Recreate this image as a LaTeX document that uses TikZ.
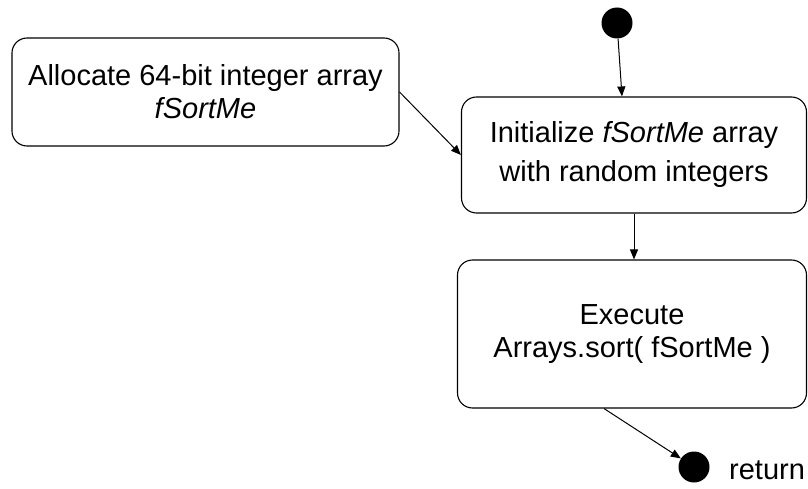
\documentclass[tikz,border=0pt]{standalone}
\usepackage{fontspec}
\setmainfont{Liberation Sans}
\usepackage{tikz}
\usetikzlibrary{arrows.meta}

\begin{document}
\begin{tikzpicture}[x=1pt,y=-1pt,
	state/.style={draw, line width=1.1pt, rounded corners=15pt, align=center,
		inner sep=0pt, font=\fontsize{29}{33}\selectfont},
	dot/.style={circle, fill=black, inner sep=0pt, minimum size=31pt},
	arr/.style={line width=1pt, -{Triangle[length=10pt,width=8pt]}}]

\useasboundingbox (0,0) rectangle (808,489);

\node[state, minimum width=387pt, minimum height=108pt] (alloc) at (205.5,92)
	{Allocate 64-bit integer array\\\textit{fSortMe}};
\node[state, minimum width=345pt, minimum height=116pt, font=\fontsize{29}{39}\selectfont] (init) at (634,155)
	{Initialize \textit{fSortMe} array\\with random integers};
\node[state, minimum width=349pt, minimum height=148pt] (exec) at (632,334)
	{Execute\\Arrays.sort( fSortMe )};

\node[dot] (start) at (617,23) {};
\node[dot] (stop) at (694,467) {};
\node[anchor=west, inner sep=0pt, font=\fontsize{29}{33}\selectfont] (ret) at (729,470) {return};

\draw[arr] (start) -- ([xshift=-12pt]init.north);
\draw[arr] (alloc.east) -- (init.west);
\draw[arr] (init.south) -- (init.south |- exec.north);
\draw[arr] ([xshift=-28pt]exec.south) -- (stop);

\end{tikzpicture}
\end{document}
